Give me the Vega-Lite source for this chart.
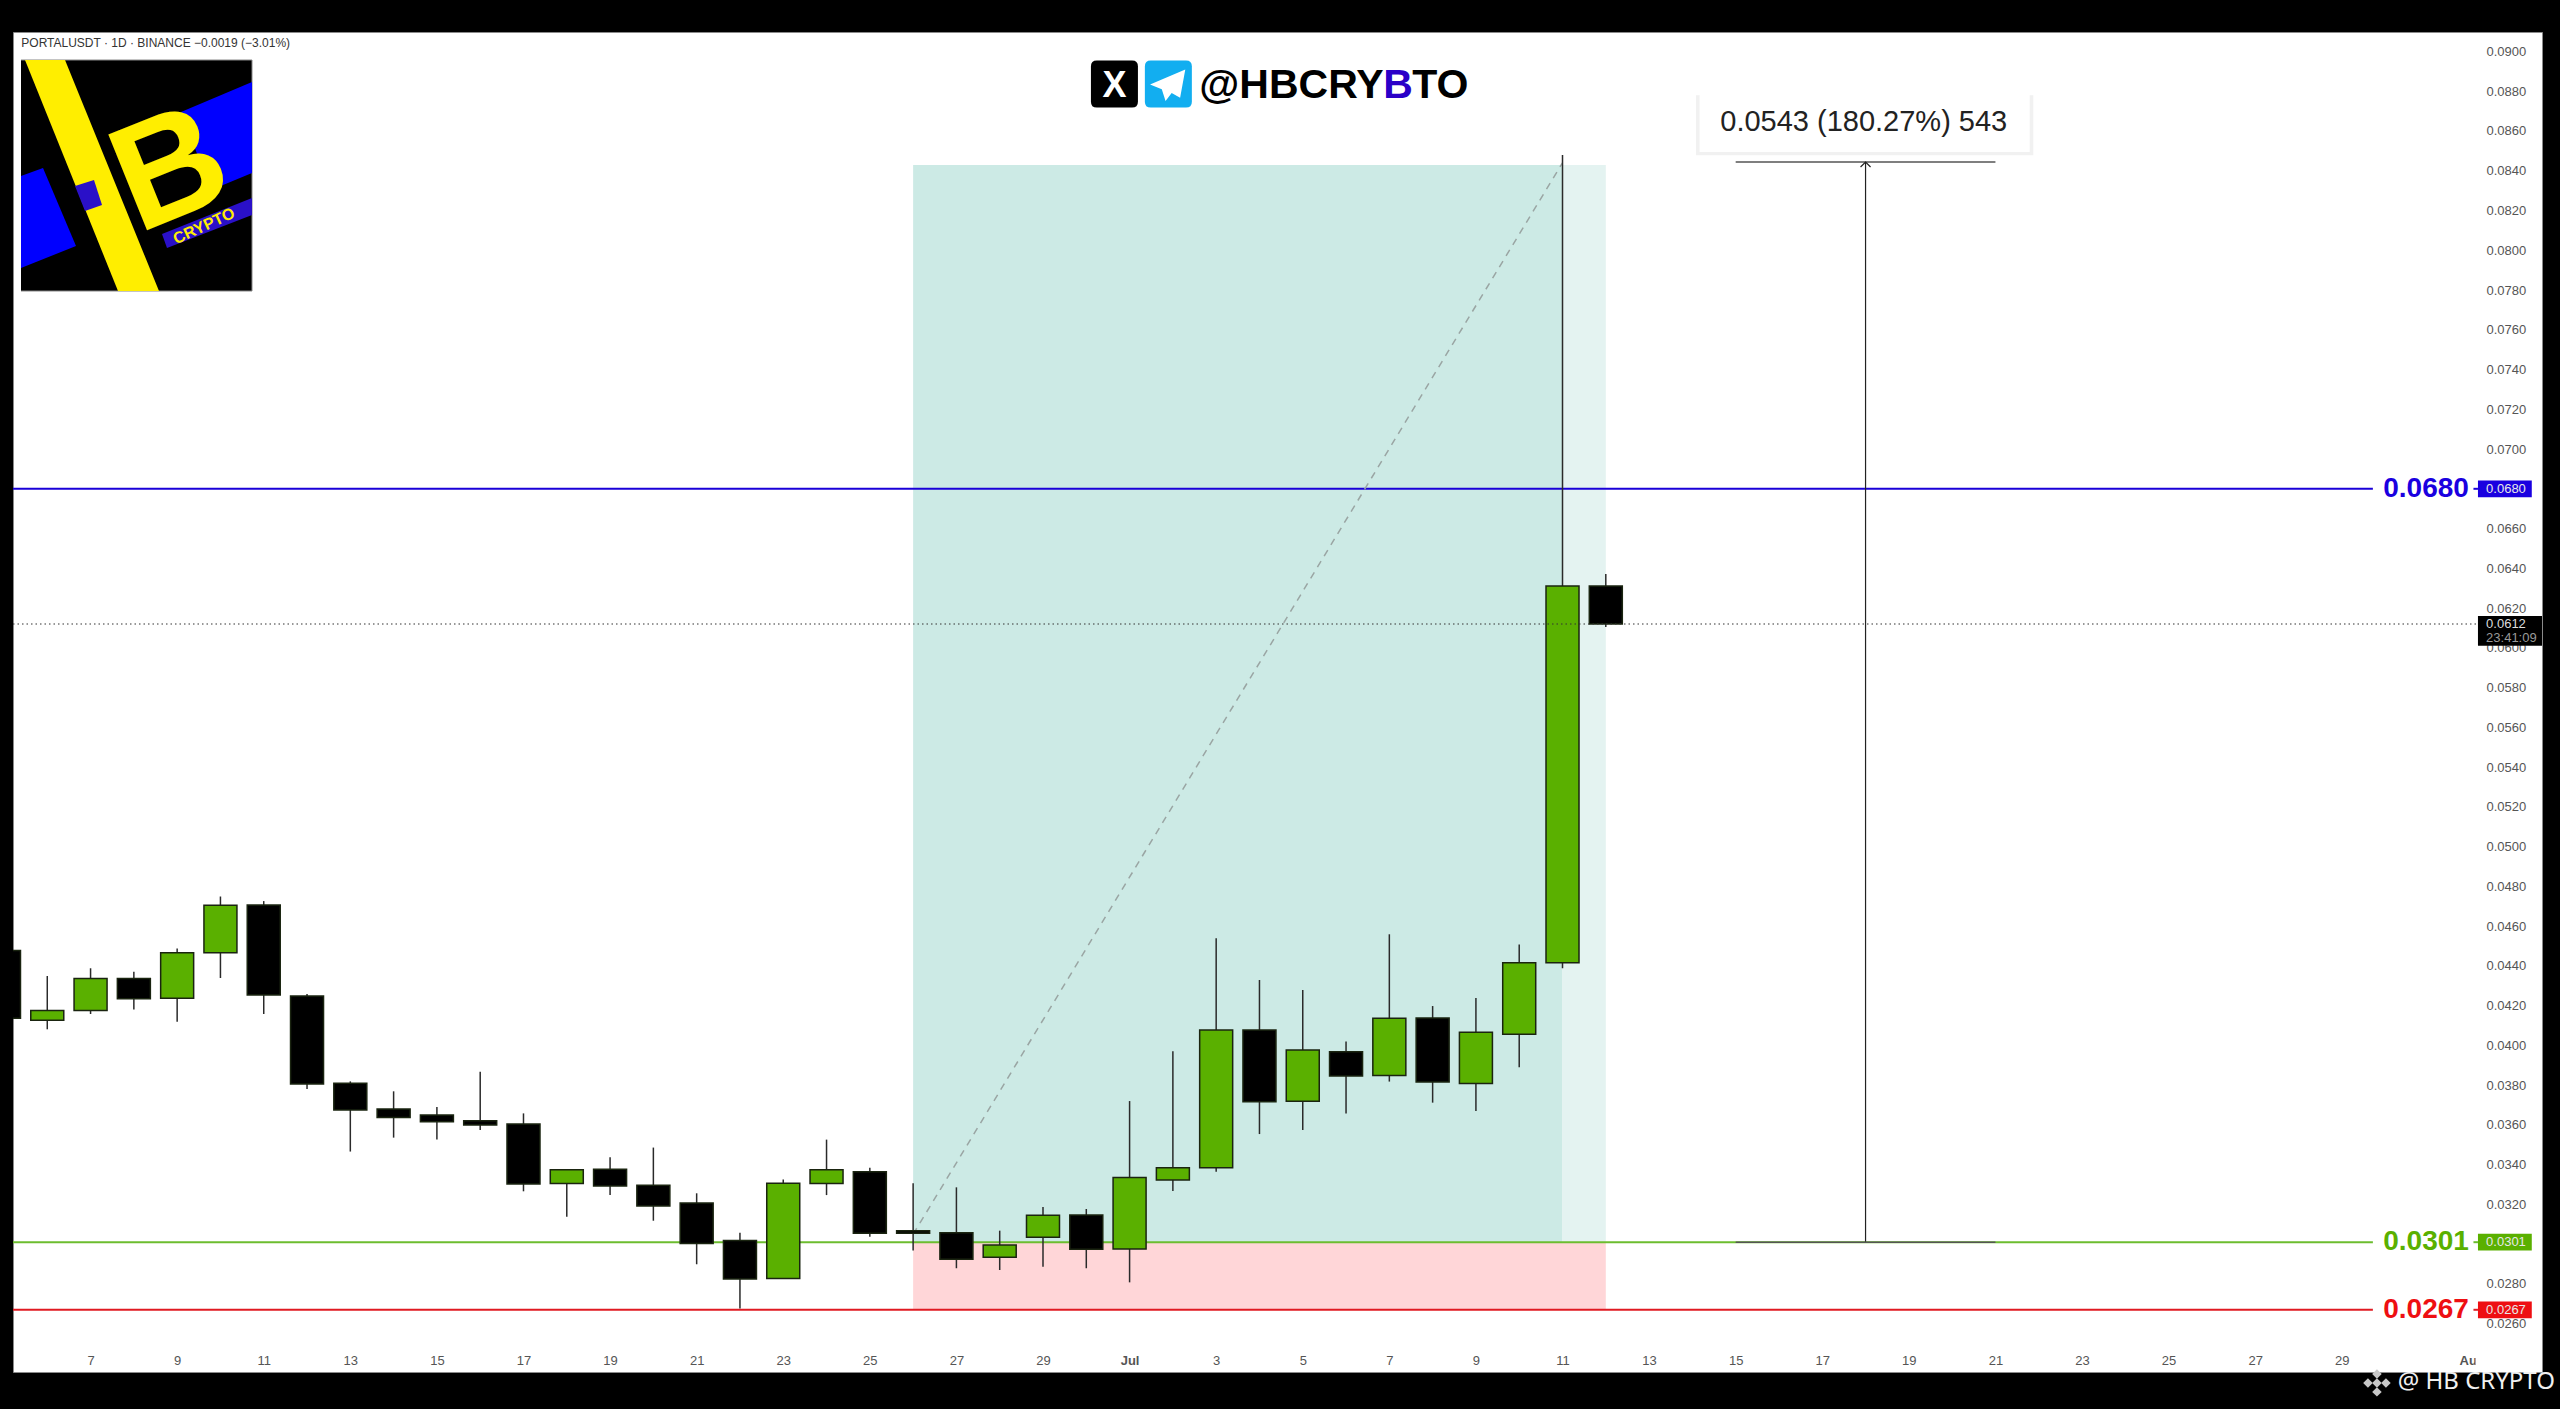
{
"$schema":"https://vega.github.io/schema/vega-lite/v6.json",
"width":2529,"height":1340,
"autosize":{"type":"none"},
"padding":{"left":13,"top":32,"right":18,"bottom":37},
"background":"#000000",
"view":{"fill":"#ffffff","stroke":"#8a8a8a","strokeWidth":1},
"config":{"font":"Liberation Sans"},
"datasets":{
"candles":[
{"date":"2025-06-05","open":0.04477,"high":0.04477,"low":0.04136,"close":0.04136,"dir":"down"},
{"date":"2025-06-06","open":0.04126,"high":0.04349,"low":0.04081,"close":0.04176,"dir":"up"},
{"date":"2025-06-07","open":0.04176,"high":0.04388,"low":0.04158,"close":0.04336,"dir":"up"},
{"date":"2025-06-08","open":0.04336,"high":0.04371,"low":0.0418,"close":0.04235,"dir":"down"},
{"date":"2025-06-09","open":0.04237,"high":0.04488,"low":0.04119,"close":0.04466,"dir":"up"},
{"date":"2025-06-10","open":0.04466,"high":0.04749,"low":0.04339,"close":0.04705,"dir":"up"},
{"date":"2025-06-11","open":0.04706,"high":0.04726,"low":0.04158,"close":0.04254,"dir":"down"},
{"date":"2025-06-12","open":0.04249,"high":0.04259,"low":0.03781,"close":0.03806,"dir":"down"},
{"date":"2025-06-13","open":0.03809,"high":0.03819,"low":0.03466,"close":0.03675,"dir":"down"},
{"date":"2025-06-14","open":0.0368,"high":0.03769,"low":0.03536,"close":0.03637,"dir":"down"},
{"date":"2025-06-15","open":0.0365,"high":0.0369,"low":0.03526,"close":0.03616,"dir":"down"},
{"date":"2025-06-16","open":0.03621,"high":0.03868,"low":0.03574,"close":0.036,"dir":"down"},
{"date":"2025-06-17","open":0.03605,"high":0.03658,"low":0.03266,"close":0.03303,"dir":"down"},
{"date":"2025-06-18","open":0.03305,"high":0.03375,"low":0.03138,"close":0.03375,"dir":"up"},
{"date":"2025-06-19","open":0.03377,"high":0.03437,"low":0.03247,"close":0.03293,"dir":"down"},
{"date":"2025-06-20","open":0.03296,"high":0.03486,"low":0.03118,"close":0.03192,"dir":"down"},
{"date":"2025-06-21","open":0.03207,"high":0.03256,"low":0.02899,"close":0.03004,"dir":"down"},
{"date":"2025-06-22","open":0.03018,"high":0.03058,"low":0.02677,"close":0.02825,"dir":"down"},
{"date":"2025-06-23","open":0.02827,"high":0.03326,"low":0.02827,"close":0.03306,"dir":"up"},
{"date":"2025-06-24","open":0.03305,"high":0.03526,"low":0.03247,"close":0.03375,"dir":"up"},
{"date":"2025-06-25","open":0.03365,"high":0.03385,"low":0.03038,"close":0.03055,"dir":"down"},
{"date":"2025-06-26","open":0.03068,"high":0.03306,"low":0.02968,"close":0.03055,"dir":"down"},
{"date":"2025-06-27","open":0.03058,"high":0.03286,"low":0.02879,"close":0.02924,"dir":"down"},
{"date":"2025-06-28","open":0.02934,"high":0.03068,"low":0.0287,"close":0.02996,"dir":"up"},
{"date":"2025-06-29","open":0.03035,"high":0.03187,"low":0.02887,"close":0.03145,"dir":"up"},
{"date":"2025-06-30","open":0.03147,"high":0.03177,"low":0.02879,"close":0.02974,"dir":"down"},
{"date":"2025-07-01","open":0.02976,"high":0.0372,"low":0.02808,"close":0.03336,"dir":"up"},
{"date":"2025-07-02","open":0.03323,"high":0.0397,"low":0.03268,"close":0.03385,"dir":"up"},
{"date":"2025-07-03","open":0.03385,"high":0.04539,"low":0.03365,"close":0.04077,"dir":"up"},
{"date":"2025-07-04","open":0.04077,"high":0.04329,"low":0.03554,"close":0.03717,"dir":"down"},
{"date":"2025-07-05","open":0.03719,"high":0.04279,"low":0.03574,"close":0.03977,"dir":"up"},
{"date":"2025-07-06","open":0.03968,"high":0.04019,"low":0.03658,"close":0.03846,"dir":"down"},
{"date":"2025-07-07","open":0.03848,"high":0.04559,"low":0.03818,"close":0.04136,"dir":"up"},
{"date":"2025-07-08","open":0.04138,"high":0.04198,"low":0.03712,"close":0.03816,"dir":"down"},
{"date":"2025-07-09","open":0.03808,"high":0.04238,"low":0.0367,"close":0.04066,"dir":"up"},
{"date":"2025-07-10","open":0.04056,"high":0.04508,"low":0.0389,"close":0.04416,"dir":"up"},
{"date":"2025-07-11","open":0.04416,"high":0.08479,"low":0.04388,"close":0.06311,"dir":"up"},
{"date":"2025-07-12","open":0.06311,"high":0.06371,"low":0.06105,"close":0.0612,"dir":"down"}
],
"zones":[
{"zone":"profit","start":"2025-06-26","end":"2025-07-11","top":0.08429,"bottom":0.0301},
{"zone":"profit open","start":"2025-07-11","end":"2025-07-12","top":0.08429,"bottom":0.0301},
{"zone":"loss","start":"2025-06-26","end":"2025-07-12","top":0.0301,"bottom":0.0267}
],
"levels":[
{"kind":"target","level":0.068,"text":"0.0680","start":"2025-06-05T05:00:00Z","end":"2025-07-29T17:15:00Z","labelAt":"2025-07-29T23:00:00Z","tickStart":"2025-08-01T01:00:00Z","tickEnd":"2025-08-01T03:30:00Z","badgeEnd":"2025-08-02T09:20:00Z","badgeText":"2025-08-01T08:00:00Z","hi":0.06842,"lo":0.06758},
{"kind":"entry","level":0.0301,"text":"0.0301","start":"2025-06-05T05:00:00Z","end":"2025-07-29T17:15:00Z","labelAt":"2025-07-29T23:00:00Z","tickStart":"2025-08-01T01:00:00Z","tickEnd":"2025-08-01T03:30:00Z","badgeEnd":"2025-08-02T09:20:00Z","badgeText":"2025-08-01T08:00:00Z","hi":0.03052,"lo":0.02968},
{"kind":"stop","level":0.0267,"text":"0.0267","start":"2025-06-05T05:00:00Z","end":"2025-07-29T17:15:00Z","labelAt":"2025-07-29T23:00:00Z","tickStart":"2025-08-01T01:00:00Z","tickEnd":"2025-08-01T03:30:00Z","badgeEnd":"2025-08-02T09:20:00Z","badgeText":"2025-08-01T08:00:00Z","hi":0.02712,"lo":0.02628}
],
"diagonal":[{"date":"2025-06-26","price":0.0305},{"date":"2025-07-11","price":0.0844}],
"measure":[{"date":"2025-07-18","start":"2025-07-15","end":"2025-07-21","top":0.08444,"bottom":0.0301}],
"watermarkDiamonds":[
{"date":"2025-07-29T19:30:00Z","price":0.02302},
{"date":"2025-07-29T14:30:00Z","price":0.02302},
{"date":"2025-07-30T00:30:00Z","price":0.02302},
{"date":"2025-07-29T19:30:00Z","price":0.02347},
{"date":"2025-07-29T19:30:00Z","price":0.02257}
],
"logoPolys":[
{"poly":"a bg","k":0,"lx":0,"ly":0},{"poly":"a bg","k":1,"lx":231,"ly":0},{"poly":"a bg","k":2,"lx":231,"ly":231},{"poly":"a bg","k":3,"lx":0,"ly":231}
],
"logoBlue":[
{"poly":"left","k":0,"lx":0,"ly":116},{"poly":"left","k":1,"lx":22,"ly":108},{"poly":"left","k":2,"lx":55,"ly":186},{"poly":"left","k":3,"lx":0,"ly":208},
{"poly":"right","k":0,"lx":160,"ly":52},{"poly":"right","k":1,"lx":231,"ly":22},{"poly":"right","k":2,"lx":231,"ly":113},{"poly":"right","k":3,"lx":190,"ly":130}
],
"logoYellow":[
{"poly":"band","k":0,"lx":4,"ly":0},{"poly":"band","k":1,"lx":44,"ly":0},{"poly":"band","k":2,"lx":138,"ly":231},{"poly":"band","k":3,"lx":97,"ly":231}
],
"logoDeep":[
{"poly":"square","k":0,"lx":54,"ly":126},{"poly":"square","k":1,"lx":73,"ly":120},{"poly":"square","k":2,"lx":81,"ly":145},{"poly":"square","k":3,"lx":64,"ly":151},
{"poly":"strip","k":0,"lx":141,"ly":174},{"poly":"strip","k":1,"lx":231,"ly":138},{"poly":"strip","k":2,"lx":231,"ly":155},{"poly":"strip","k":3,"lx":146,"ly":188}
]
},
"layer":[
{"layer":[
{"data":{"name":"zones"},"mark":{"type":"rect"},
"encoding":{
"x":{"field":"start","type":"temporal","title":null,"scale":{"type":"utc","nice":false,"padding":0,"domain":["2025-06-05T05:00:00Z","2025-08-02T15:00:00Z"]},
"axis":{"orient":"bottom","domain":false,"ticks":false,"tickSize":0,"grid":false,"labelPadding":-12,"labelBaseline":"middle","labelFontSize":13,"labelColor":"#555555","labelFlush":false,"labelOverlap":false,"labelBound":false,
"values":["2025-06-07T00:00:00Z","2025-06-09T00:00:00Z","2025-06-11T00:00:00Z","2025-06-13T00:00:00Z","2025-06-15T00:00:00Z","2025-06-17T00:00:00Z","2025-06-19T00:00:00Z","2025-06-21T00:00:00Z","2025-06-23T00:00:00Z","2025-06-25T00:00:00Z","2025-06-27T00:00:00Z","2025-06-29T00:00:00Z","2025-07-01T00:00:00Z","2025-07-03T00:00:00Z","2025-07-05T00:00:00Z","2025-07-07T00:00:00Z","2025-07-09T00:00:00Z","2025-07-11T00:00:00Z","2025-07-13T00:00:00Z","2025-07-15T00:00:00Z","2025-07-17T00:00:00Z","2025-07-19T00:00:00Z","2025-07-21T00:00:00Z","2025-07-23T00:00:00Z","2025-07-25T00:00:00Z","2025-07-27T00:00:00Z","2025-07-29T00:00:00Z","2025-08-01T00:00:00Z"],
"labelExpr":"utcdate(datum.value)==1 ? utcFormat(datum.value,'%b') : ''+utcdate(datum.value)",
"labelFontWeight":{"condition":{"test":"utcdate(datum.value)==1","value":"bold"},"value":"normal"}}},
"x2":{"field":"end"},
"y":{"field":"top","type":"quantitative","title":null,"scale":{"domain":[0.02357,0.09098],"zero":false,"nice":false,"padding":0},
"axis":{"orient":"right","domain":false,"ticks":false,"tickSize":0,"grid":false,"labelPadding":-56,"labelAlign":"left","labelFontSize":13,"labelColor":"#555555","labelBound":false,"labelFlush":false,"labelOverlap":false,"format":".4f",
"values":[0.026,0.028,0.03,0.032,0.034,0.036,0.038,0.04,0.042,0.044,0.046,0.048,0.05,0.052,0.054,0.056,0.058,0.06,0.062,0.064,0.066,0.068,0.07,0.072,0.074,0.076,0.078,0.08,0.082,0.084,0.086,0.088,0.09]}},
"y2":{"field":"bottom"},
"color":{"field":"zone","type":"nominal","legend":null,"scale":{"domain":["profit","profit open","loss"],"range":["#cceae5","#e4f3f1","#ffd6d8"]}}
}},
{"data":{"name":"levels"},"mark":{"type":"rule","strokeWidth":2},
"encoding":{"x":{"field":"start","type":"temporal"},"x2":{"field":"end"},"y":{"field":"level","type":"quantitative"},
"stroke":{"field":"kind","type":"nominal","legend":null,"scale":{"domain":["target","entry","stop"],"range":["#1a00d8","#6cbd2f","#e01a22"]}}}},
{"data":{"name":"levels"},"mark":{"type":"rule","strokeWidth":2},
"encoding":{"x":{"field":"tickStart","type":"temporal"},"x2":{"field":"tickEnd"},"y":{"field":"level","type":"quantitative"},
"stroke":{"field":"kind","type":"nominal","legend":null,"scale":{"domain":["target","entry","stop"],"range":["#1a00d8","#6cbd2f","#e01a22"]}}}},
{"data":{"name":"diagonal"},"mark":{"type":"line","stroke":"#9aa5a3","strokeWidth":1.5,"strokeDash":[7,6]},
"encoding":{"x":{"field":"date","type":"temporal"},"y":{"field":"price","type":"quantitative"}}},
{"data":{"name":"candles"},"mark":{"type":"rule","stroke":"#2a2a2a","strokeWidth":1.5,"clip":true},
"encoding":{"x":{"field":"date","type":"temporal"},"y":{"field":"high","type":"quantitative"},"y2":{"field":"low"}}},
{"data":{"name":"candles"},"mark":{"type":"bar","size":33,"stroke":"#1a2410","strokeWidth":1.5,"clip":true},
"encoding":{"x":{"field":"date","type":"temporal"},"y":{"field":"open","type":"quantitative"},"y2":{"field":"close"},
"fill":{"field":"dir","type":"nominal","legend":null,"scale":{"domain":["up","down","target","entry","stop","price","time"],"range":["#5ab000","#000000","#1a00e0","#5ab000","#ee0f12","#dddddd","#999999"]}}}},
{"data":{"values":[{"start":"2025-06-05T05:00:00Z","end":"2025-08-01T03:30:00Z","price":0.0612}]},"mark":{"type":"rule","stroke":"#333333","strokeWidth":1.2,"strokeDash":[1.5,3]},
"encoding":{"x":{"field":"start","type":"temporal"},"x2":{"field":"end"},"y":{"field":"price","type":"quantitative"}}},
{"data":{"name":"measure"},"mark":{"type":"rule","stroke":"#222222","strokeWidth":1.2},
"encoding":{"x":{"field":"date","type":"temporal"},"y":{"field":"top","type":"quantitative"},"y2":{"field":"bottom"}}},
{"data":{"name":"measure"},"mark":{"type":"rule","stroke":"#555555","strokeWidth":1.6},
"encoding":{"x":{"field":"start","type":"temporal"},"x2":{"field":"end"},"y":{"field":"top","type":"quantitative"}}},
{"data":{"name":"measure"},"mark":{"type":"rule","stroke":"#555555","strokeWidth":1.6},
"encoding":{"x":{"field":"start","type":"temporal"},"x2":{"field":"end"},"y":{"field":"bottom","type":"quantitative"}}},
{"data":{"name":"measure"},"mark":{"type":"point","shape":"M-1,1 L0,0 L1,1","size":100,"filled":false,"stroke":"#222222","strokeWidth":1.2,"opacity":1},
"encoding":{"x":{"field":"date","type":"temporal"},"y":{"field":"top","type":"quantitative"}}},
{"data":{"values":[{"a":"2025-07-14T02:00:00Z","b":"2025-07-21T21:00:00Z","top":0.0878,"bottom":0.08478}]},"mark":{"type":"rect","fill":"#f1f1f1"},
"encoding":{"x":{"field":"a","type":"temporal"},"x2":{"field":"b"},"y":{"field":"top","type":"quantitative"},"y2":{"field":"bottom"}}},
{"data":{"values":[{"a":"2025-07-14T04:00:00Z","b":"2025-07-21T19:00:00Z","top":0.08786,"bottom":0.08494}]},"mark":{"type":"rect","fill":"#ffffff"},
"encoding":{"x":{"field":"a","type":"temporal"},"x2":{"field":"b"},"y":{"field":"top","type":"quantitative"},"y2":{"field":"bottom"}}},
{"data":{"values":[{"date":"2025-07-17T23:00:00Z","price":0.08645,"label":"0.0543 (180.27%) 543"}]},"mark":{"type":"text","font":"Liberation Sans","fontSize":29,"fill":"#222222","align":"center","baseline":"middle"},
"encoding":{"x":{"field":"date","type":"temporal"},"y":{"field":"price","type":"quantitative"},"text":{"field":"label"}}},
{"data":{"values":[{"date":"2025-06-05T09:36:00Z","price":0.09042,"label":"PORTALUSDT · 1D · BINANCE  −0.0019 (−3.01%)"}]},"mark":{"type":"text","font":"Liberation Sans","fontSize":12,"fill":"#333333","align":"left","baseline":"middle"},
"encoding":{"x":{"field":"date","type":"temporal"},"y":{"field":"price","type":"quantitative"},"text":{"field":"label"}}},
{"data":{"values":[{"date":"2025-06-30T15:36:00Z","price":0.08836,"icon":"x"}]},"mark":{"type":"point","shape":"M-0.75,-1 L0.75,-1 Q1,-1 1,-0.75 L1,0.75 Q1,1 0.75,1 L-0.75,1 Q-1,1 -1,0.75 L-1,-0.75 Q-1,-1 -0.75,-1 Z","size":2209,"filled":true,"fill":"#000000","opacity":1},
"encoding":{"x":{"field":"date","type":"temporal"},"y":{"field":"price","type":"quantitative"}}},
{"data":{"values":[{"date":"2025-07-01T21:30:00Z","price":0.08836,"icon":"telegram"}]},"mark":{"type":"point","shape":"M-0.75,-1 L0.75,-1 Q1,-1 1,-0.75 L1,0.75 Q1,1 0.75,1 L-0.75,1 Q-1,1 -1,0.75 L-1,-0.75 Q-1,-1 -0.75,-1 Z","size":2209,"filled":true,"fill":"#12aef0","opacity":1},
"encoding":{"x":{"field":"date","type":"temporal"},"y":{"field":"price","type":"quantitative"}}},
{"data":{"values":[{"date":"2025-07-01T21:30:00Z","price":0.08836,"icon":"plane"}]},"mark":{"type":"point","shape":"M0.72,-0.62 L-0.78,0.02 L-0.28,0.22 L-0.12,0.72 L0.14,0.38 L0.5,0.58 Z","size":2209,"filled":true,"fill":"#ffffff","opacity":1},
"encoding":{"x":{"field":"date","type":"temporal"},"y":{"field":"price","type":"quantitative"}}},
{"data":{"values":[{"date":"2025-06-30T15:36:00Z","price":0.08826,"label":"X"}]},"mark":{"type":"text","font":"Liberation Sans","fontWeight":"bold","fontSize":36,"fill":"#ffffff","align":"center","baseline":"middle"},
"encoding":{"x":{"field":"date","type":"temporal"},"y":{"field":"price","type":"quantitative"},"text":{"field":"label"}}},
{"data":{"values":[{"date":"2025-07-02T14:40:00Z","price":0.08826,"label":"@HBCRY"},{"date":"2025-07-07T12:40:00Z","price":0.08826,"label":"TO"}]},"mark":{"type":"text","font":"Liberation Sans","fontWeight":"bold","fontSize":41,"fill":"#000000","align":"left","baseline":"middle"},
"encoding":{"x":{"field":"date","type":"temporal"},"y":{"field":"price","type":"quantitative"},"text":{"field":"label"}}},
{"data":{"values":[{"date":"2025-07-06T20:40:00Z","price":0.08826,"label":"B"}]},"mark":{"type":"text","font":"Liberation Sans","fontWeight":"bold","fontSize":41,"fill":"#2a00c8","align":"left","baseline":"middle"},
"encoding":{"x":{"field":"date","type":"temporal"},"y":{"field":"price","type":"quantitative"},"text":{"field":"label"}}},
{"data":{"name":"levels"},"mark":{"type":"rect"},
"encoding":{"x":{"field":"tickEnd","type":"temporal"},"x2":{"field":"badgeEnd"},"y":{"field":"hi","type":"quantitative"},"y2":{"field":"lo"},
"fill":{"field":"kind","type":"nominal","legend":null}}},
{"data":{"name":"levels"},"mark":{"type":"text","font":"Liberation Sans","fontSize":13,"align":"left","baseline":"middle","fill":"#e8e8e8"},
"encoding":{"x":{"field":"badgeText","type":"temporal"},"y":{"field":"level","type":"quantitative"},"text":{"field":"text"}}},
{"data":{"name":"levels"},"mark":{"type":"text","font":"Liberation Sans","fontWeight":"bold","fontSize":28,"align":"left","baseline":"middle"},
"encoding":{"x":{"field":"labelAt","type":"temporal"},"y":{"field":"level","type":"quantitative"},"text":{"field":"text"},
"fill":{"field":"kind","type":"nominal","legend":null}}},
{"data":{"values":[{"a":"2025-08-01T03:30:00Z","b":"2025-08-02T15:00:00Z","top":0.0616,"bottom":0.0601}]},"mark":{"type":"rect","fill":"#000000"},
"encoding":{"x":{"field":"a","type":"temporal"},"x2":{"field":"b"},"y":{"field":"top","type":"quantitative"},"y2":{"field":"bottom"}}},
{"data":{"values":[{"date":"2025-08-01T08:00:00Z","price":0.0612,"label":"0.0612","shade":"price"},{"date":"2025-08-01T08:00:00Z","price":0.06049,"label":"23:41:09","shade":"time"}]},"mark":{"type":"text","font":"Liberation Sans","fontSize":13,"align":"left","baseline":"middle"},
"encoding":{"x":{"field":"date","type":"temporal"},"y":{"field":"price","type":"quantitative"},"text":{"field":"label"},
"fill":{"field":"shade","type":"nominal","legend":null}}},
{"data":{"values":[{"a":"2025-08-01T02:10:00Z","b":"2025-08-02T14:30:00Z","top":0.02468,"bottom":0.0236}]},"mark":{"type":"rect","fill":"#ffffff"},
"encoding":{"x":{"field":"a","type":"temporal"},"x2":{"field":"b"},"y":{"field":"top","type":"quantitative"},"y2":{"field":"bottom"}}},
{"data":{"values":[{"date":"2025-07-30T07:00:00Z","price":0.02307,"label":"@ HB CRYPTO"}]},"mark":{"type":"text","font":"Noto Sans","fontSize":24,"fill":"#f0f0f0","align":"left","baseline":"middle"},
"encoding":{"x":{"field":"date","type":"temporal"},"y":{"field":"price","type":"quantitative"},"text":{"field":"label"}}},
{"data":{"name":"watermarkDiamonds"},"mark":{"type":"point","shape":"diamond","size":90,"filled":true,"fill":"#c8c8c8","opacity":1},
"encoding":{"x":{"field":"date","type":"temporal"},"y":{"field":"price","type":"quantitative"}}}
]},
{"layer":[
{"data":{"name":"logoPolys"},"mark":{"type":"line","fill":"#000000","stroke":"#888888","strokeWidth":1},
"encoding":{"x":{"field":"lx","type":"quantitative","axis":null,"scale":{"domain":[0,231],"range":[8,239],"zero":false,"nice":false}},
"y":{"field":"ly","type":"quantitative","axis":null,"scale":{"domain":[0,231],"range":[28,259],"zero":false,"nice":false}},
"order":{"field":"k"},"detail":{"field":"poly"}}},
{"data":{"name":"logoBlue"},"mark":{"type":"line","fill":"#0000ff","strokeWidth":0},
"encoding":{"x":{"field":"lx","type":"quantitative","axis":null},"y":{"field":"ly","type":"quantitative","axis":null},"order":{"field":"k"},"detail":{"field":"poly"}}},
{"data":{"name":"logoYellow"},"mark":{"type":"line","fill":"#ffee00","strokeWidth":0},
"encoding":{"x":{"field":"lx","type":"quantitative","axis":null},"y":{"field":"ly","type":"quantitative","axis":null},"order":{"field":"k"},"detail":{"field":"poly"}}},
{"data":{"name":"logoDeep"},"mark":{"type":"line","fill":"#2a10c8","strokeWidth":0},
"encoding":{"x":{"field":"lx","type":"quantitative","axis":null},"y":{"field":"ly","type":"quantitative","axis":null},"order":{"field":"k"},"detail":{"field":"poly"}}},
{"data":{"values":[{"lx":150,"ly":112,"label":"B"}]},"mark":{"type":"text","font":"Liberation Sans","fontWeight":"bold","fontSize":150,"fill":"#ffee00","angle":-22,"align":"center","baseline":"middle"},
"encoding":{"x":{"field":"lx","type":"quantitative","axis":null},"y":{"field":"ly","type":"quantitative","axis":null},"text":{"field":"label"}}},
{"data":{"values":[{"lx":183,"ly":166,"label":"CRYPTO"}]},"mark":{"type":"text","font":"Liberation Sans","fontWeight":"bold","fontSize":16,"fill":"#ffee00","angle":-25,"align":"center","baseline":"middle"},
"encoding":{"x":{"field":"lx","type":"quantitative","axis":null},"y":{"field":"ly","type":"quantitative","axis":null},"text":{"field":"label"}}}
]}
],
"resolve":{"scale":{"x":"independent","y":"independent","color":"independent","fill":"independent","stroke":"independent"}}
}
